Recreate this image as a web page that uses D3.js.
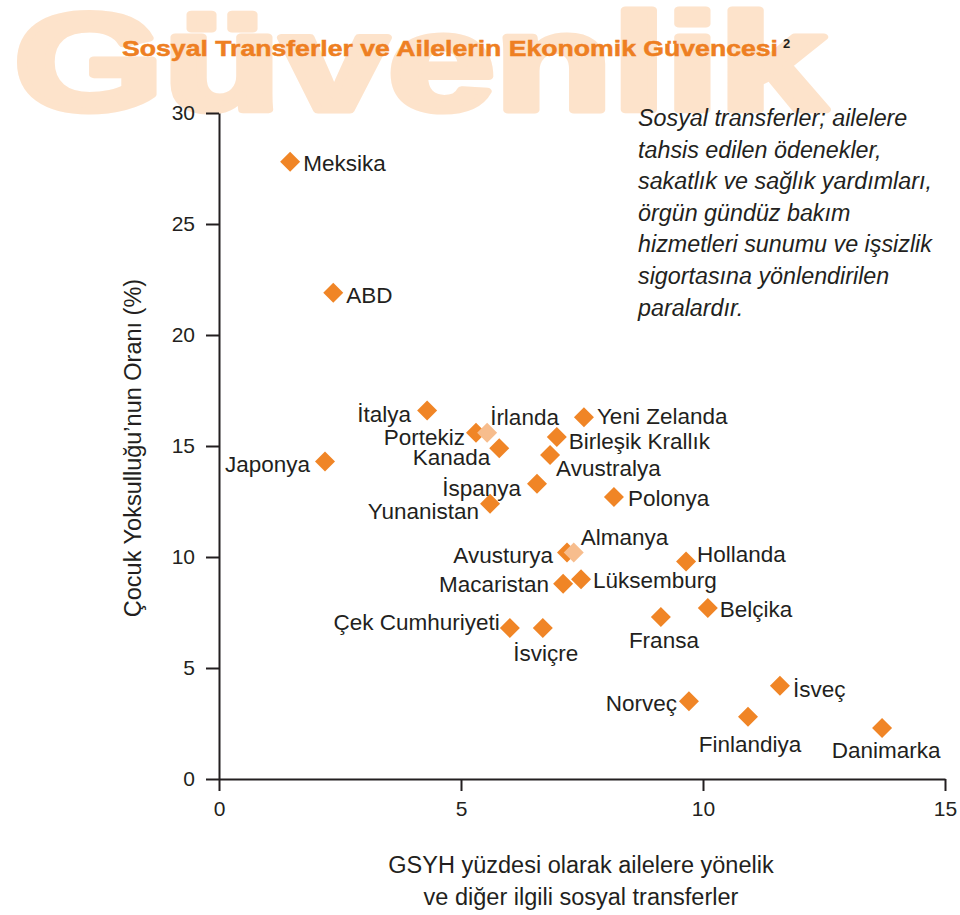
<!DOCTYPE html>
<html>
<head>
<meta charset="utf-8">
<script src="https://cdn.jsdelivr.net/npm/d3@7"></script>
<style>
  html, body { margin: 0; padding: 0; background: #fff; }
  svg { display: block; }
  text { font-family: "Liberation Sans", Arial, Helvetica, sans-serif; }
</style>
</head>
<body>
<svg id="chart" width="960" height="915"></svg>
<script>
// ---------- DATA ----------
const countries = ["Meksika","ABD","Japonya","İtalya","Portekiz","İrlanda","Kanada","İspanya","Yunanistan",
  "Yeni Zelanda","Birleşik Krallık","Avustralya","Polonya","Avusturya","Almanya","Macaristan","Lüksemburg",
  "Hollanda","Belçika","Fransa","Çek Cumhuriyeti","İsviçre","Norveç","İsveç","Finlandiya","Danimarka"];
const transfers = [1.47,2.36,2.19,4.30,5.31,5.54,5.79,6.57,5.60,
  7.54,6.98,6.84,8.16,7.19,7.33,7.11,7.48,
  9.65,10.10,9.13,6.01,6.69,9.71,11.59,10.93,13.70];
const childPoverty = [27.8,21.9,14.3,16.6,15.6,15.6,14.9,13.3,12.4,
  16.3,15.4,14.6,12.7,10.2,10.2,8.8,9.0,
  9.8,7.7,7.3,6.8,6.8,3.5,4.2,2.8,2.3];
const highlighted = ["İrlanda","Almanya"];
const xTicks = [0,5,10,15];
const yTicks = [0,5,10,15,20,25,30];

const titleText = "Sosyal Transferler ve Ailelerin Ekonomik Güvencesi";
const watermarkText = "Güvenlik";
const yTitle = "Çocuk Yoksulluğu’nun Oranı (%)";
const xTitleLines = ["GSYH yüzdesi olarak ailelere yönelik", "ve diğer ilgili sosyal transferler"];
const noteLines = ["Sosyal transferler; ailelere","tahsis edilen ödenekler,","sakatlık ve sağlık yardımları,",
  "örgün gündüz bakım","hizmetleri sunumu ve işsizlik","sigortasına yönlendirilen","paralardır."];

// ---------- LAYOUT (label placement: anchor, dx, dy in px) ----------
const labelPlacement = {
  "Meksika":["start",13,1], "ABD":["start",13,2], "Japonya":["end",-15,2], "İtalya":["end",-16,3],
  "Portekiz":["end",-11,4], "İrlanda":["start",3,-16], "Kanada":["end",-9,9], "İspanya":["end",-16,4],
  "Yunanistan":["end",-11,7], "Yeni Zelanda":["start",13,-1], "Birleşik Krallık":["start",12,4],
  "Avustralya":["start",6,13], "Polonya":["start",14,1], "Avusturya":["end",-14,2], "Almanya":["start",7,-16],
  "Macaristan":["end",-14,0], "Lüksemburg":["start",12,1], "Hollanda":["start",11,-8], "Belçika":["start",12,1],
  "Fransa":["middle",3,23], "Çek Cumhuriyeti":["end",-10,-6], "İsviçre":["middle",3,25], "Norveç":["end",-12,2],
  "İsveç":["start",13,3], "Finlandiya":["middle",2,27], "Danimarka":["middle",4,22]
};

const ORANGE = "#F08526", LIGHT = "#F7BD8D", INK = "#231F20";
const svg = d3.select("#chart");

// watermark
svg.append("text")
  .attr("x", 14).attr("y", 110)
  .attr("font-size", 137).attr("font-weight", "bold")
  .attr("fill", "#FDE3CB").attr("stroke", "#FDE3CB").attr("stroke-width", 7)
  .attr("stroke-linejoin", "round")
  .attr("textLength", 812).attr("lengthAdjust", "spacingAndGlyphs")
  .text(watermarkText);

// title
svg.append("text")
  .attr("x", 122).attr("y", 56)
  .attr("font-size", 22.5).attr("font-weight", "bold")
  .attr("fill", "#EE7F22").attr("stroke", "#EE7F22").attr("stroke-width", 0.5)
  .attr("textLength", 656).attr("lengthAdjust", "spacingAndGlyphs")
  .text(titleText);
svg.append("text")
  .attr("x", 783).attr("y", 48)
  .attr("font-size", 13).attr("font-weight", "bold").attr("fill", INK)
  .text("2");

// scales
const x = d3.scaleLinear().domain([0, 15]).range([219, 945]);
const y = d3.scaleLinear().domain([0, 30]).range([779, 113]);

// axes
const gx = svg.append("g").attr("transform", `translate(0,${y(0)})`)
  .call(d3.axisBottom(x).tickValues(xTicks).tickSize(12).tickSizeOuter(0).tickPadding(10));
const gy = svg.append("g").attr("transform", `translate(${x(0)},0)`)
  .call(d3.axisLeft(y).tickValues(yTicks).tickSize(13).tickSizeOuter(0).tickPadding(11));
[gx, gy].forEach(g => {
  g.selectAll("path.domain").attr("stroke", INK).attr("stroke-width", 2);
  g.selectAll(".tick line").attr("stroke", INK).attr("stroke-width", 2);
  g.selectAll(".tick text").attr("fill", INK).attr("font-size", 21)
    .attr("font-family", "'Liberation Sans', Arial, sans-serif");
});

// axis titles
svg.append("text")
  .attr("transform", `translate(141,${(y(0)+y(30))/2 + 2}) rotate(-90)`)
  .attr("text-anchor", "middle").attr("font-size", 23.5).attr("fill", INK)
  .text(yTitle);
svg.append("g").selectAll("text").data(xTitleLines).join("text")
  .attr("x", 581).attr("y", (d, i) => 873 + i * 32)
  .attr("text-anchor", "middle").attr("font-size", 23.5).attr("fill", INK)
  .text(d => d);

// note
svg.append("g").selectAll("text").data(noteLines).join("text")
  .attr("x", 638).attr("y", (d, i) => 126 + i * 31.6)
  .attr("font-size", 23.3).attr("font-style", "italic").attr("fill", INK)
  .text(d => d);

// points
const pts = countries.map((c, i) => ({ name: c, x: transfers[i], y: childPoverty[i], hi: highlighted.includes(c) }));
const ordered = pts.filter(d => !d.hi).concat(pts.filter(d => d.hi));
const sym = d3.symbol(d3.symbolSquare, 200);
svg.append("g").selectAll("path").data(ordered).join("path")
  .attr("d", sym)
  .attr("transform", d => `translate(${x(d.x)},${y(d.y)}) rotate(45)`)
  .attr("fill", d => d.hi ? LIGHT : ORANGE);

// labels
svg.append("g").selectAll("text").data(pts).join("text")
  .attr("x", d => x(d.x) + labelPlacement[d.name][1])
  .attr("y", d => y(d.y) + labelPlacement[d.name][2])
  .attr("dy", "0.36em")
  .attr("text-anchor", d => labelPlacement[d.name][0])
  .attr("font-size", 22.5).attr("fill", INK)
  .text(d => d.name);
</script>
</body>
</html>
